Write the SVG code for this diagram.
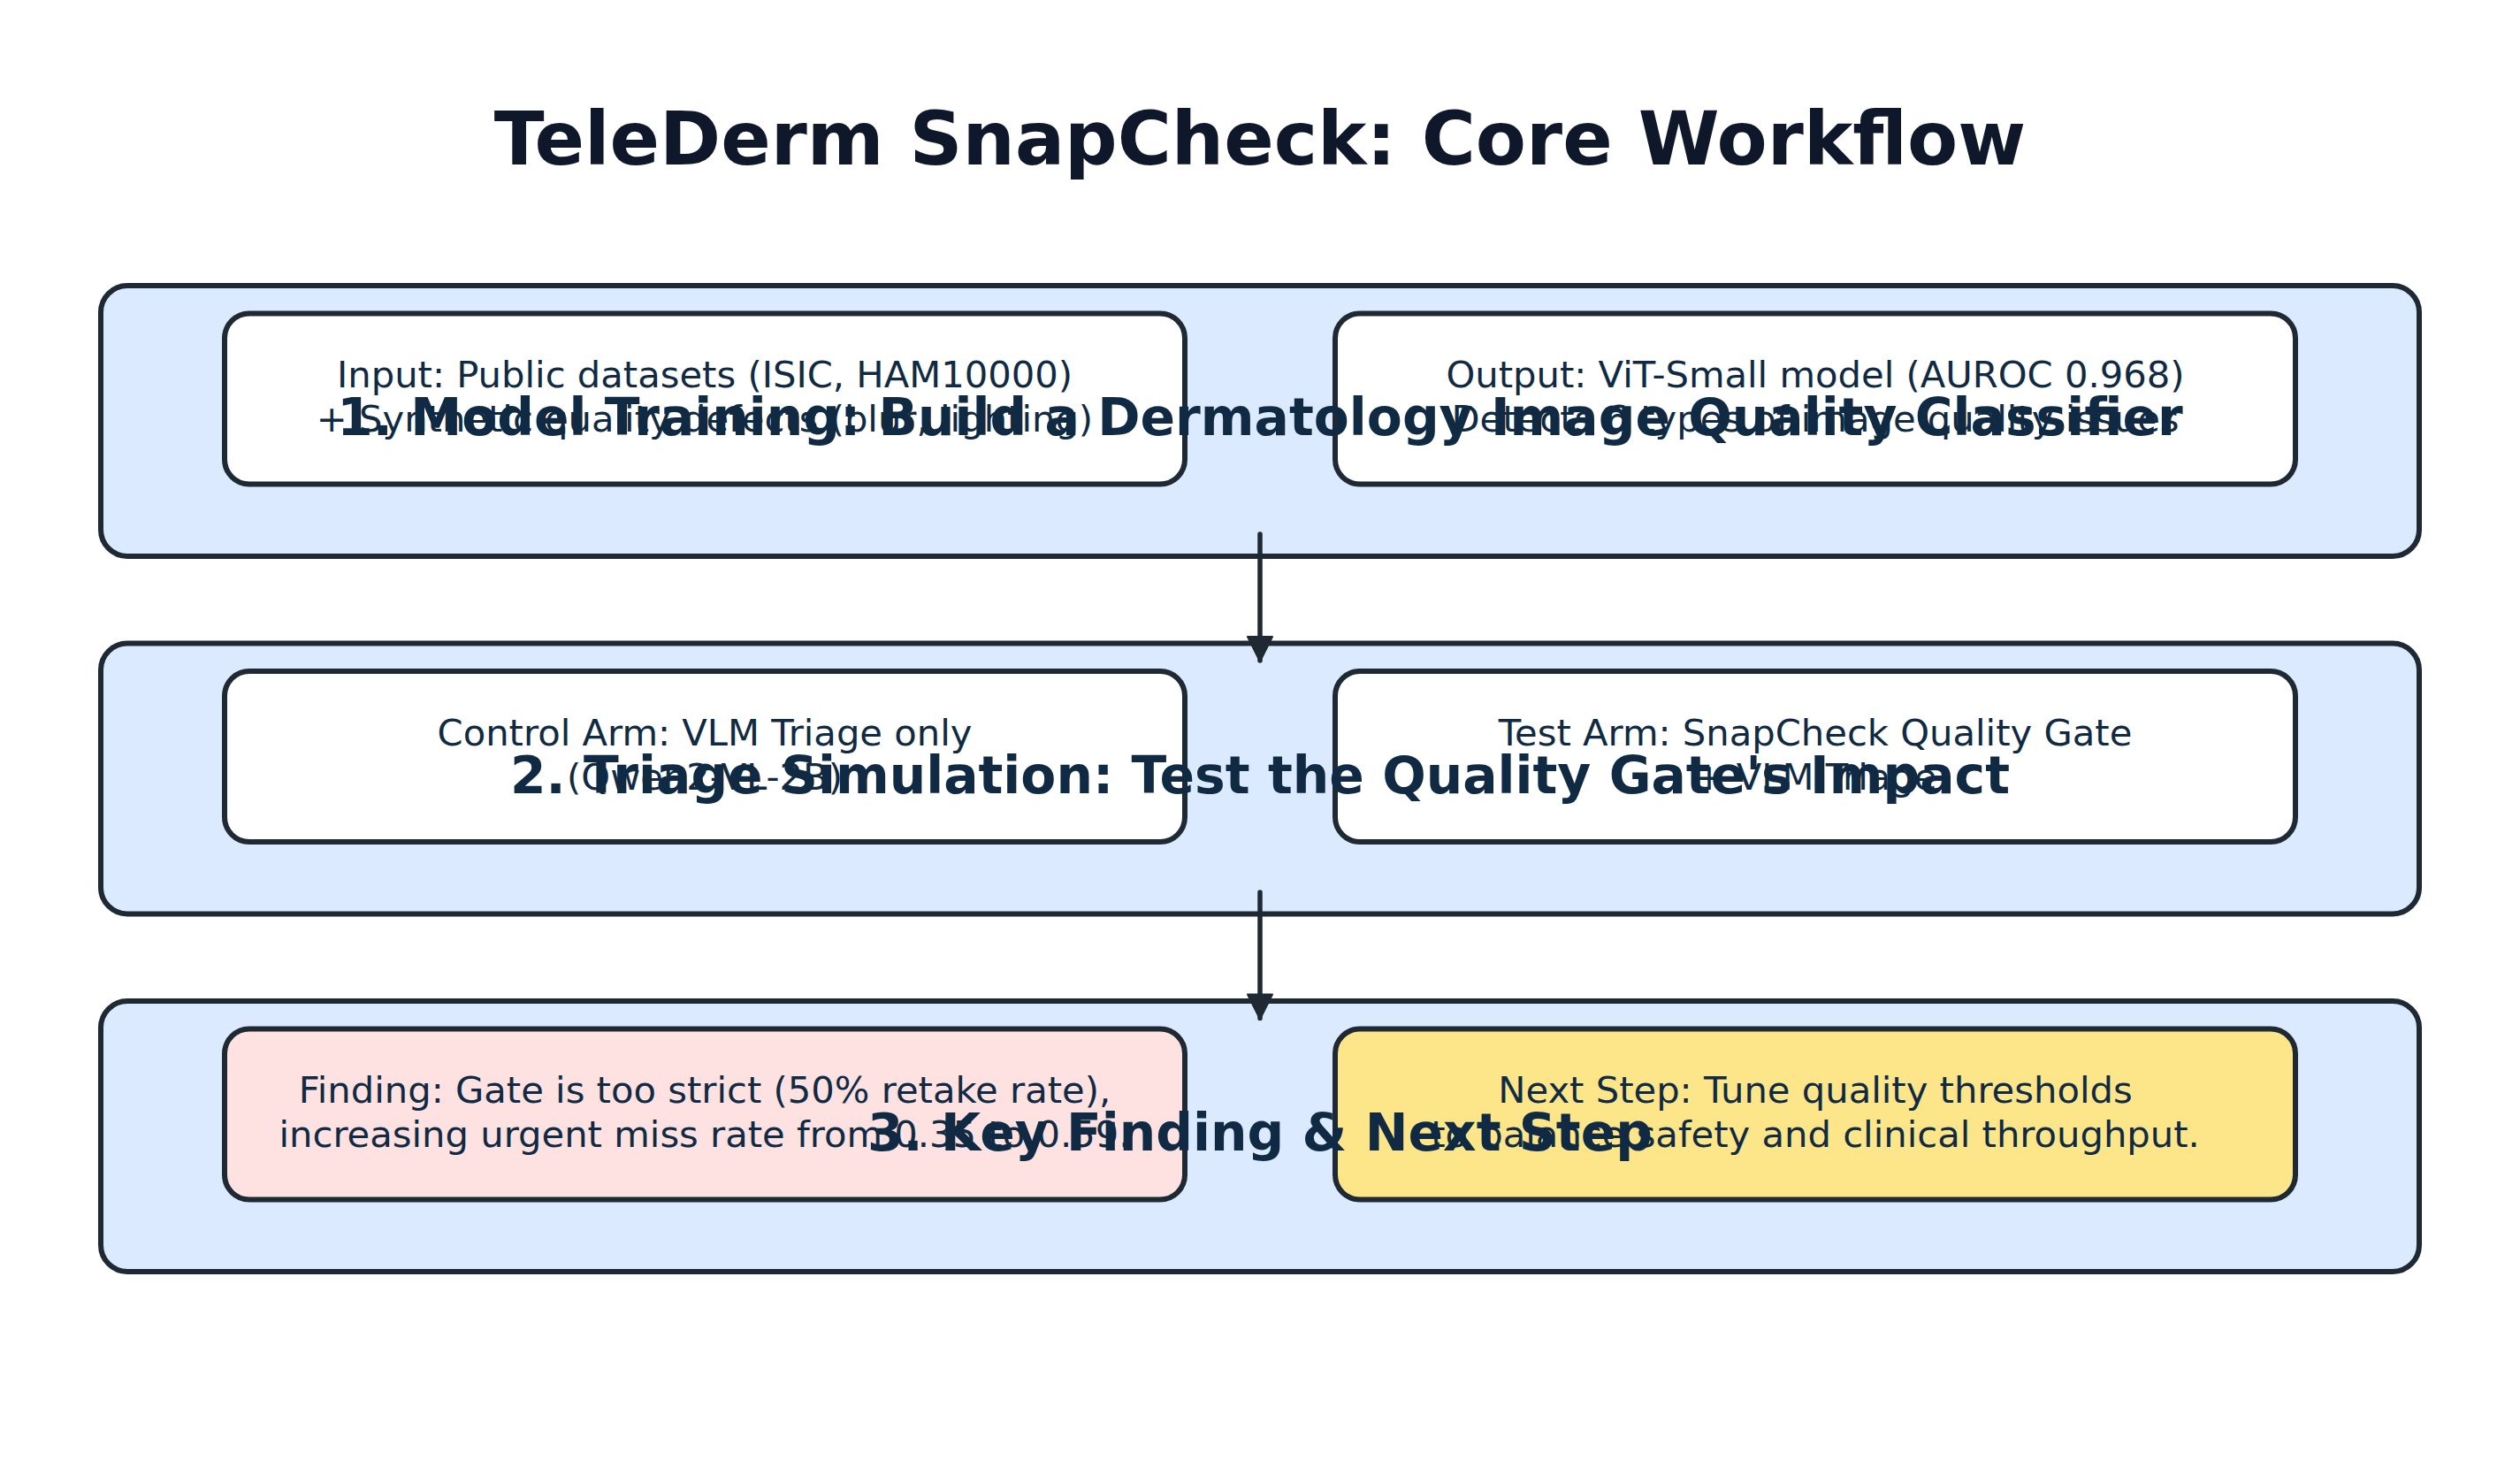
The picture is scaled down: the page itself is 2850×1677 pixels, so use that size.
<svg xmlns="http://www.w3.org/2000/svg" width="2850" height="1677" viewBox="0 0 2850 1677">
<defs>
<style>
.outer{fill:#dbeafe;stroke:#1f2933;stroke-width:6}
.inner{fill:#ffffff;stroke:#1f2933;stroke-width:6}
.pink{fill:#fee2e2}
.yellow{fill:#fde68a}
.body{font-family:"DejaVu Sans","Liberation Sans",sans-serif;font-size:41.7px;fill:#102a43;text-anchor:middle}
.sec{font-family:"DejaVu Sans","Liberation Sans",sans-serif;font-size:58.3px;font-weight:bold;fill:#102a43;text-anchor:middle}
.title{font-family:"DejaVu Sans","Liberation Sans",sans-serif;font-size:83.3px;font-weight:bold;fill:#0f172a;text-anchor:middle}
.conn{stroke:#1f2933;stroke-width:5.5;stroke-linecap:round;fill:none}
</style>
<marker id="arrow" markerUnits="userSpaceOnUse" markerWidth="32" markerHeight="32" viewBox="0 0 32 32" refX="29" refY="16" orient="auto">
<path d="M2,2 L30,16 L2,30 Z" fill="#1f2933" stroke="#1f2933" stroke-width="2" stroke-linejoin="round"/>
</marker>
</defs>
<rect width="2850" height="1677" fill="#ffffff"/>
<text class="title" x="1425" y="186">TeleDerm SnapCheck: Core Workflow</text>

<g id="stage1">
<rect class="outer" x="114" y="323" width="2622" height="306" rx="30"/>
<g id="stage1-input">
<rect class="inner" x="254" y="354.5" width="1086" height="193" rx="28"/>
<text class="body" x="797" y="438">Input: Public datasets (ISIC, HAM10000)</text>
<text class="body" x="797" y="488">+ Synthetic quality defects (blur, lighting)</text>
</g>
<g id="stage1-output">
<rect class="inner" x="1510" y="354.5" width="1086" height="193" rx="28"/>
<text class="body" x="2053" y="438">Output: ViT-Small model (AUROC 0.968)</text>
<text class="body" x="2053" y="488">Detects 6 types of image quality issues</text>
</g>
<text class="sec" x="1425" y="492">1. Model Training: Build a Dermatology Image Quality Classifier</text>
</g>

<g id="stage2">
<rect class="outer" x="114" y="727.5" width="2622" height="306" rx="30"/>
<g id="stage2-control">
<rect class="inner" x="254" y="759" width="1086" height="193" rx="28"/>
<text class="body" x="797" y="842.5">Control Arm: VLM Triage only</text>
<text class="body" x="797" y="892.5">(Qwen2-VL-2B)</text>
</g>
<g id="stage2-test">
<rect class="inner" x="1510" y="759" width="1086" height="193" rx="28"/>
<text class="body" x="2053" y="842.5">Test Arm: SnapCheck Quality Gate</text>
<text class="body" x="2053" y="892.5">+ VLM Triage</text>
</g>
<text class="sec" x="1425" y="896.5">2. Triage Simulation: Test the Quality Gate's Impact</text>
</g>

<g id="stage3">
<rect class="outer" x="114" y="1132" width="2622" height="306" rx="30"/>
<g id="stage3-finding">
<rect class="inner pink" x="254" y="1163.5" width="1086" height="193" rx="28"/>
<text class="body" x="797" y="1247">Finding: Gate is too strict (50% retake rate),</text>
<text class="body" x="797" y="1297">increasing urgent miss rate from 0.35 to 0.59.</text>
</g>
<g id="stage3-next">
<rect class="inner yellow" x="1510" y="1163.5" width="1086" height="193" rx="28"/>
<text class="body" x="2053" y="1247">Next Step: Tune quality thresholds</text>
<text class="body" x="2053" y="1297">to balance safety and clinical throughput.</text>
</g>
<text class="sec" x="1425" y="1301">3. Key Finding &amp; Next Step</text>
</g>

<g id="connectors">
<line class="conn" x1="1425" y1="604" x2="1425" y2="747" marker-end="url(#arrow)"/>
<line class="conn" x1="1425" y1="1009" x2="1425" y2="1151.5" marker-end="url(#arrow)"/>
</g>
</svg>
